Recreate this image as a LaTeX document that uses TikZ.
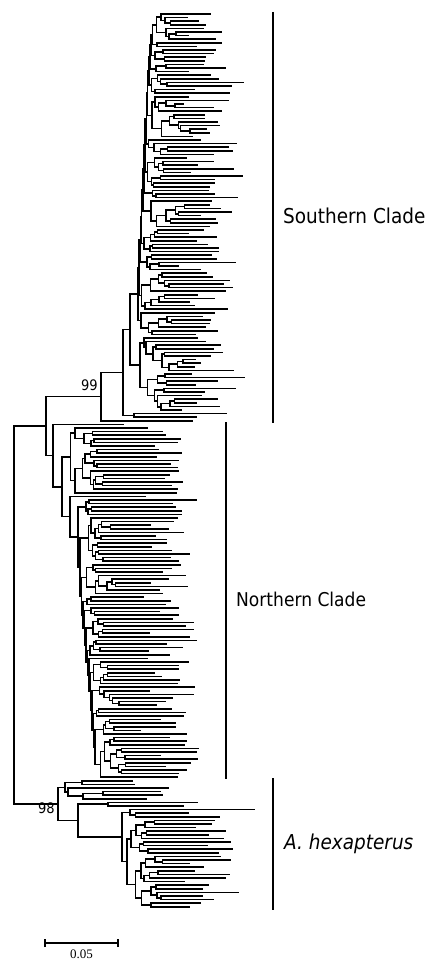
\documentclass[tikz,border=0pt]{standalone}
\usepackage{fontspec}
\setmainfont{DejaVu Sans}[FakeStretch=0.9]
\newfontfamily\numfont{Liberation Serif}
\newcount\lk
\def\leafR{%
  \pgfmathsetmacro\yy{14+3.6*\the\lk}%
  \pgfmathsetmacro\xe{min(max(\emid+\esd*1.73*(rnd+rnd+rnd+rnd-2),\px+8,\emin),\emax)}%
  \draw[tr] (\px,\yy) -- (\xe,\yy);%
  \global\advance\lk by 1\relax
  \xdef\outy{\yy}}
\def\leafF#1{%
  \pgfmathsetmacro\yy{14+3.6*\the\lk}%
  \draw[tr] (\px,\yy) -- (#1,\yy);%
  \global\advance\lk by 1\relax
  \xdef\outy{\yy}}
\def\R#1{%
  \begingroup
  \ifnum#1<2\relax
    \leafR
  \else
    \let\pp\px
    \pgfmathsetmacro\myx{\pp+\bmin+rnd*(\bmax-\bmin)}%
    \pgfmathtruncatemacro\na{min(#1-1,1+floor(rnd*(#1-1)))}%
    \pgfmathtruncatemacro\nb{#1-\na}%
    \let\px\myx
    \edef\next{\noexpand\R{\na}}\next
    \let\ya\outy
    \edef\next{\noexpand\R{\nb}}\next
    \let\yb\outy
    \draw[tr] (\myx,\ya) -- (\myx,\yb);%
    \pgfmathsetmacro\ym{(\ya+\yb)/2}%
    \draw[tr] (\pp,\ym) -- (\myx,\ym);%
    \xdef\outy{\ym}%
  \fi
  \endgroup}
\def\N#1#2#3{%
  \begingroup
  \let\pp\px
  \pgfmathsetmacro\myx{\pp+#1}%
  \let\px\myx
  #2\let\ya\outy
  #3\let\yb\outy
  \draw[tr] (\myx,\ya) -- (\myx,\yb);%
  \pgfmathsetmacro\ym{(\ya+\yb)/2}%
  \draw[tr] (\pp,\ym) -- (\myx,\ym);%
  \xdef\outy{\ym}%
  \endgroup}
\def\setS{\def\emid{210}\def\esd{15}\def\emin{176}\def\emax{258}\def\bmin{2}\def\bmax{10}}
\def\setN{\def\emid{174}\def\esd{14}\def\emin{140}\def\emax{212}\def\bmin{2}\def\bmax{9}}
\def\setH{\def\emid{217}\def\esd{15}\def\emin{183}\def\emax{254}\def\bmin{3}\def\bmax{10}}
\begin{document}
\begin{tikzpicture}[x=1pt,y=-1pt,
  tr/.style={line width=1.5pt,line cap=rect},
  bar/.style={line width=1.5pt},
  lab/.style={anchor=base west,inner sep=0pt},
  boot/.style={anchor=base east,inner sep=0pt,font=\fontsize{14.5}{16}\selectfont}]
\fill[white] (0,0) rectangle (431,960);
\useasboundingbox (0,0) rectangle (431,960);
\pgfmathsetseed{4242}
\global\lk=0
\def\px{14}
\setS
\N{0}{%
  \N{32}{%
    \setS
    \N{55}{%
      \N{22}{%
        \N{7}{%
          \N{8}{%
           \N{1.2}{%
            \N{1.2}{%
             \N{1.2}{%
              \N{1.2}{%
               \N{1.2}{%
                \N{1.2}{%
                 \N{1.2}{%
                  \N{1.2}{%
                   \N{1.2}{%
                    \N{1.2}{%
                     \N{1.2}{%
                      \N{1.2}{\R{8}}{\R{2}}%
                     }{\R{4}}%
                    }{\R{3}}%
                   }{\R{6}}%
                  }{\R{12}}%
                 }{\R{5}}%
                }{\R{9}}%
               }{\R{3}}%
              }{\R{8}}%
             }{\R{7}}%
            }{\R{5}}%
           }{\R{11}}%
          }{\R{7}}%
        }{%
          \N{10}{\R{10}}{\R{11}}%
        }%
      }{%
        \N{11}{\leafF{226}}{\leafF{196}}%
      }%
    }{%
      \leafF{192}%
    }%
  }{%
    \setN
    \N{7}{\leafF{123}}{%
     \N{9}{\R{19}}{%
      \N{8}{\leafF{145}}{%
       \N{8}{\R{5}}{%
        \N{2}{\R{13}}{%
         \N{1.5}{\R{9}}{%
          \N{1.5}{\R{3}}{%
           \N{1.5}{\R{3}}{%
            \N{1.5}{\R{6}}{%
             \N{1.5}{\R{5}}{%
              \N{1.5}{\leafR}{%
               \N{1.5}{\R{7}}{%
                \N{1.5}{\R{6}}{%
                 \N{1.5}{\R{3}}{%
                  \N{1.5}{\R{5}}{\R{12}}%
                 }}}}}}}}}}}}}}%
  }%
}{%
  \setH
  \N{44}{%
    \N{7}{\N{17}{\leafF{132}}{\leafF{134}}}{%
      \N{3}{\leafF{168}}{\N{15}{\N{20}{\leafF{160}}{\leafF{162}}}{\leafF{146}}}}%
  }{%
    \N{20}{\N{30}{\leafF{197}}{\leafF{183}}}{%
      \N{44}{\R{3}}{\N{5}{\R{10}}{\R{15}}}}%
  }%
}
% clade bars
\draw[bar] (273,12) -- (273,423);
\draw[bar] (226,422) -- (226,779);
\draw[bar] (273,778) -- (273,910);
% labels
\node[lab,font=\fontsize{20.5}{24}\selectfont] (sc) at (283,223) {Southern Clade};
\node[lab,font=\fontsize{19}{23}\selectfont] (nc) at (236,606) {Northern Clade};
\node[lab,font=\fontsize{20.5}{24}\selectfont\itshape] (hx) at (284,849) {A. hexapterus};
\node[boot] (b99) at (98,390) {99};
\node[boot] (b98) at (55,813) {98};
% scale bar
\coordinate (s0) at (45,943);
\coordinate (s1) at (118,943);
\draw[line width=1.4pt] (s0) -- (s1);
\draw[line width=1.4pt] ([yshift=-4pt]s0) -- ([yshift=4pt]s0);
\draw[line width=1.4pt] ([yshift=-4pt]s1) -- ([yshift=4pt]s1);
\node[anchor=base,inner sep=0pt,font=\numfont\fontsize{13}{15}\selectfont] (sl) at (81.5,958) {0.05};
\end{tikzpicture}
\end{document}
